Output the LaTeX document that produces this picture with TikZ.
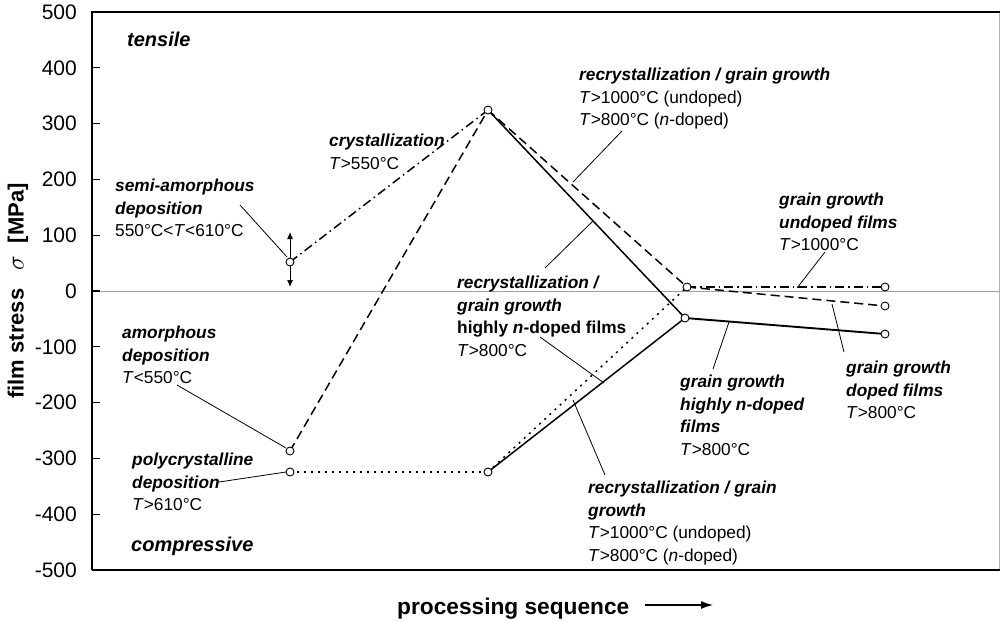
\documentclass[tikz,border=0pt]{standalone}
\usepackage{fontspec}
\setmainfont{Liberation Sans}
\usetikzlibrary{arrows.meta}
\newcommand\bi[1]{\textbf{\textit{#1}}}
\begin{document}
\begin{tikzpicture}[x=1pt,y=-1pt,
  lbl/.style={anchor=north west,inner sep=0pt,align=left,font=\fontsize{17.3}{22.5}\selectfont},
  biglbl/.style={anchor=north west,inner sep=0pt,font=\fontsize{20}{24}\selectfont\bfseries\itshape},
  ticklbl/.style={anchor=east,inner sep=0pt,font=\fontsize{21}{21}\selectfont},
  leader/.style={line width=0.8pt},
  pt/.style={circle,draw,fill=white,inner sep=0pt,minimum size=8pt,line width=0.9pt},
  solidl/.style={line width=1.5pt},
  dashedl/.style={line width=1.5pt,dash pattern=on 9pt off 5pt},
  dashdotl/.style={line width=1.5pt,dash pattern=on 9pt off 4pt on 1.5pt off 4pt},
  dottedl/.style={line width=1.5pt,dash pattern=on 2pt off 5pt},
]
\useasboundingbox (0,0) rectangle (1001,621);
% frame
\draw[gray!60,line width=1pt] (999,12) -- (999,570);
\draw[gray!75,line width=1pt] (92,291) -- (999,291);
\draw[line width=2.6pt] (92,570) -- (92,12) -- (1000,12);
\draw[line width=2.6pt] (92,570) -- (1000,570);
\foreach \v in {400,300,...,-400} \draw[line width=1.2pt] (92,{291-0.558*\v}) -- (100,{291-0.558*\v});
\foreach \v in {500,400,...,-500} \node[ticklbl] (t\v) at (77,{291-0.558*\v}) {\v};
\node[rotate=90,inner sep=0pt,font=\fontsize{22}{22}\selectfont\bfseries] (ylab) at (18,291) {film stress \ \ {\fontsize{25}{25}\selectfont$\sigma$}\ \ [MPa]};
\node[anchor=base west,inner sep=0pt,font=\fontsize{22.7}{22.7}\selectfont\bfseries] (xlab) at (397,614) {processing sequence};
\coordinate (arrS) at (645,605);
\coordinate (arrE) at (713,605);
\draw[line width=1.3pt,-{Latex[length=12pt,width=8pt]}] (arrS) -- (arrE);
% data points
\coordinate (A) at (290,262);
\coordinate (B) at (290,451);
\coordinate (C) at (290,472);
\coordinate (D) at (488,110);
\coordinate (E) at (488,472);
\coordinate (F) at (687,287);
\coordinate (G) at (685,318);
\coordinate (H1) at (885,287);
\coordinate (H2) at (885,306);
\coordinate (H3) at (885,334);
\coordinate (Aup) at (290,232);
\coordinate (Adn) at (290,287);
% curves
\draw[dashdotl] (A) -- (D);
\draw[dashedl] (B) -- (D);
\draw[dottedl] (C) -- (E);
\draw[solidl] (D) -- (G);
\draw[dashedl] (D) -- (F);
\draw[solidl] (E) -- (G);
\draw[dottedl] (E) -- (F);
\draw[dashdotl] (F) -- (H1);
\draw[dashedl] (F) -- (H2);
\draw[line width=1.9pt] (G) -- (H3);
\draw[line width=1pt,{Latex[length=7pt,width=6pt]}-{Latex[length=7pt,width=6pt]}] (Aup) -- (Adn);
\foreach \p in {A,B,C,D,E,F,G,H1,H2,H3} \node[pt] (m\p) at (\p) {};
% labels
\node[biglbl] (tens) at (127,32) {tensile};
\node[biglbl] (comp) at (131,537) {compressive};
\node[lbl] (semi) at (115,179) {\bi{semi-amorphous}\\ \bi{deposition}\\ 550°C<\textit{T}<610°C};
\node[lbl] (cryst) at (329,134) {\bi{crystallization}\\ \textit{T}>550°C};
\node[lbl] (recU) at (579,68) {\bi{recrystallization / grain growth}\\ \textit{T}>1000°C (undoped)\\ \textit{T}>800°C (\textit{n}-doped)};
\node[lbl] (recM) at (457,276) {\bi{recrystallization /}\\ \bi{grain growth}\\ \textbf{highly \textit{n}-doped films}\\ \textit{T}>800°C};
\node[lbl] (recL) at (588,481) {\bi{recrystallization / grain}\\ \bi{growth}\\ \textit{T}>1000°C (undoped)\\ \textit{T}>800°C (\textit{n}-doped)};
\node[lbl] (ggU) at (779,193) {\bi{grain growth}\\ \bi{undoped films}\\ \textit{T}>1000°C};
\node[lbl] (ggD) at (846,361) {\bi{grain growth}\\ \bi{doped films}\\ \textit{T}>800°C};
\node[lbl] (ggN) at (680,375) {\bi{grain growth}\\ \bi{highly n-doped}\\ \bi{films}\\ \textit{T}>800°C};
\node[lbl] (amor) at (122,326) {\bi{amorphous}\\ \bi{deposition}\\ \textit{T}<550°C};
\node[lbl] (poly) at (132,453) {\bi{polycrystalline}\\ \bi{deposition}\\ \textit{T}>610°C};
% leaders
\coordinate (l1a) at (240,205); \coordinate (l1b) at (287,257);
\draw[leader] (l1a) -- (l1b);
\coordinate (l2a) at (622,131); \coordinate (l2b) at (573,182);
\draw[leader] (l2a) -- (l2b);
\coordinate (l3a) at (545,268); \coordinate (l3b) at (593,221);
\draw[leader] (l3a) -- (l3b);
\coordinate (l4a) at (540,337); \coordinate (l4b) at (604,383);
\draw[leader] (l4a) -- (l4b);
\coordinate (l5a) at (605,475); \coordinate (l5b) at (573,400);
\draw[leader] (l5a) -- (l5b);
\coordinate (l6a) at (825,252); \coordinate (l6b) at (797,288);
\draw[leader] (l6a) -- (l6b);
\coordinate (l7a) at (844,352); \coordinate (l7b) at (832,304);
\draw[leader] (l7a) -- (l7b);
\coordinate (l8a) at (713,369); \coordinate (l8b) at (729,322);
\draw[leader] (l8a) -- (l8b);
\coordinate (l9a) at (177,385); \coordinate (l9b) at (286,448);
\draw[leader] (l9a) -- (l9b);
\coordinate (l10a) at (219,482); \coordinate (l10b) at (286,472);
\draw[leader] (l10a) -- (l10b);
\end{tikzpicture}
\end{document}
